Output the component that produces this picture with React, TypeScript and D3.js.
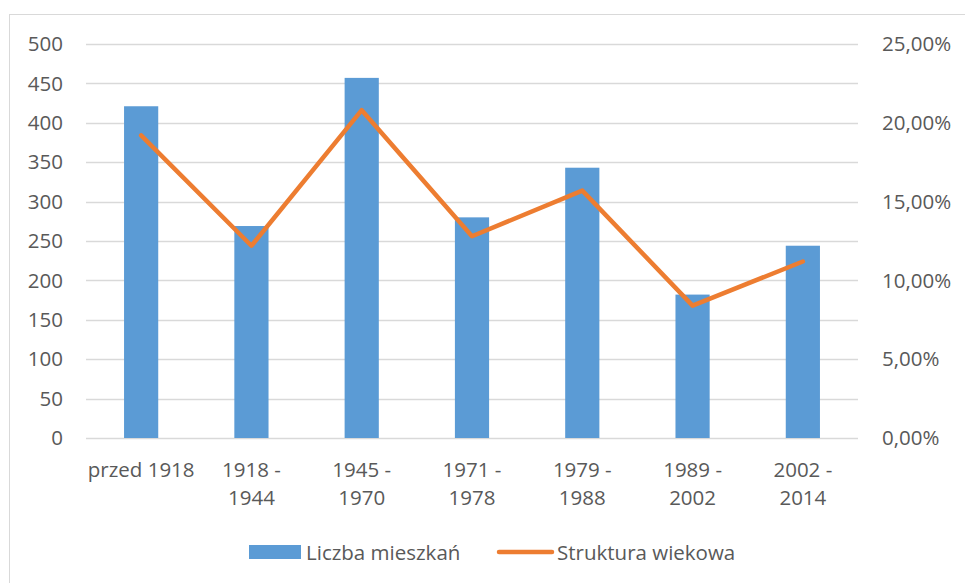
import React, { useEffect, useRef } from 'react';
import * as d3 from 'd3';

const categories = ['przed 1918', '1918 -\n1944', '1945 -\n1970', '1971 -\n1978', '1979 -\n1988', '1989 -\n2002', '2002 -\n2014'];
const flats = [421, 269, 457, 280, 343, 182, 244];
const ageShare = [0.192, 0.122, 0.208, 0.128, 0.157, 0.084, 0.112];
const leftTicks = [0, 50, 100, 150, 200, 250, 300, 350, 400, 450, 500];
const rightTicks = [0, 0.05, 0.1, 0.15, 0.2, 0.25];

const W = 965;
const H = 583;
const margin = { top: 44, right: 107, bottom: 145, left: 86 };
const width = W - margin.left - margin.right;
const height = H - margin.top - margin.bottom;
const FONT = '"Open Sans", sans-serif';
const FS = '20.5px';
const TEXT = '#595959';

const App = () => {
  const svgRef = useRef(null);

  useEffect(() => {
    const svg = d3.select(svgRef.current);
    svg.selectAll('*').remove();

    // chart frame
    svg.append('rect')
      .attr('x', 9.5).attr('y', 14.5)
      .attr('width', W + 20).attr('height', H + 20)
      .attr('fill', 'white').attr('stroke', '#d9d9d9').attr('stroke-width', 1);

    const g = svg.append('g').attr('transform', `translate(${margin.left}, ${margin.top})`);

    const x = d3.scaleBand().domain(categories).range([0, width]).paddingInner(0.69).paddingOuter(0.345);
    const y = d3.scaleLinear().domain([0, 500]).range([height, 0]);
    const y2 = d3.scaleLinear().domain([0, 0.25]).range([height, 0]);

    // gridlines
    g.selectAll('.grid')
      .data(leftTicks)
      .enter().append('line')
      .attr('x1', 0).attr('x2', width)
      .attr('y1', (d) => Math.round(y(d)) + 0.5).attr('y2', (d) => Math.round(y(d)) + 0.5)
      .attr('stroke', '#d9d9d9').attr('stroke-width', 1.5);

    // left axis labels
    g.selectAll('.ylab')
      .data(leftTicks)
      .enter().append('text')
      .attr('x', -23).attr('y', (d) => y(d))
      .attr('dy', '0.35em')
      .attr('text-anchor', 'end')
      .style('font-family', FONT).style('font-size', FS).style('fill', TEXT)
      .text((d) => d);

    // right axis labels
    const fmt = (d) => (d * 100).toFixed(2).replace('.', ',') + '%';
    g.selectAll('.y2lab')
      .data(rightTicks)
      .enter().append('text')
      .attr('x', width + 24).attr('y', (d) => y2(d))
      .attr('dy', '0.35em')
      .style('font-family', FONT).style('font-size', FS).style('fill', TEXT)
      .text(fmt);

    // bars
    g.selectAll('.bar')
      .data(flats)
      .enter().append('rect')
      .attr('x', (d, i) => x(categories[i]))
      .attr('y', (d) => y(d))
      .attr('width', x.bandwidth())
      .attr('height', (d) => height - y(d))
      .attr('fill', '#5b9bd5');

    // line
    const line = d3.line()
      .x((d, i) => x(categories[i]) + x.bandwidth() / 2)
      .y((d) => y2(d));

    g.append('path')
      .datum(ageShare)
      .attr('fill', 'none')
      .attr('stroke', '#ed7d31')
      .attr('stroke-width', 4.5)
      .attr('stroke-linecap', 'round')
      .attr('stroke-linejoin', 'round')
      .attr('d', line);

    // category labels
    const labels = g.selectAll('.xlab')
      .data(categories)
      .enter().append('text')
      .attr('text-anchor', 'middle')
      .attr('transform', (d) => `translate(${x(d) + x.bandwidth() / 2}, ${height + 39})`)
      .style('font-family', FONT).style('font-size', FS).style('fill', TEXT);
    labels.selectAll('tspan')
      .data((d) => d.split('\n'))
      .enter().append('tspan')
      .attr('x', 0)
      .attr('y', (d, i) => i * 28)
      .text((d) => d);

    // legend
    const lg = svg.append('g');
    lg.append('rect')
      .attr('x', 249).attr('y', 545).attr('width', 52).attr('height', 14)
      .attr('fill', '#5b9bd5');
    lg.append('text')
      .attr('x', 306).attr('y', 560)
      .style('font-family', FONT).style('font-size', FS).style('fill', TEXT)
      .text('Liczba mieszkań');
    lg.append('line')
      .attr('x1', 499).attr('x2', 552).attr('y1', 552).attr('y2', 552)
      .attr('stroke', '#ed7d31').attr('stroke-width', 4.5).attr('stroke-linecap', 'round');
    lg.append('text')
      .attr('x', 557).attr('y', 560)
      .style('font-family', FONT).style('font-size', FS).style('fill', TEXT)
      .text('Struktura wiekowa');
  }, []);

  return <svg ref={svgRef} width={W} height={H} style={{ position: 'absolute', left: 0, top: 0 }}></svg>;
};

export default App;
